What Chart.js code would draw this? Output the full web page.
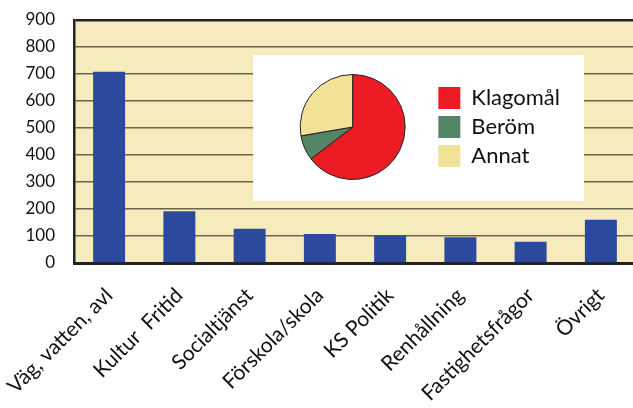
<!DOCTYPE html>
<html>
<head>
<meta charset="utf-8">
<script src="https://cdn.jsdelivr.net/npm/chart.js@4"></script>
<style>
    html, body { margin: 0; padding: 0; background: #fff; overflow: hidden; }
    #wrap { position: relative; width: 633px; height: 408px; overflow: hidden; }
    #barChart { position: absolute; left: 0; top: 0; }
    #pieChart { position: absolute; left: 253px; top: 55px; background: #fff; }
</style>
</head>
<body>
<div id="wrap">
    <canvas id="barChart"></canvas>
    <canvas id="pieChart"></canvas>
</div>
<script>
// Categories and values
const categories = ['Väg, vatten, avl', 'Kultur  Fritid', 'Socialtjänst', 'Förskola/skola',
    'KS Politik', 'Renhållning', 'Fastighetsfrågor', 'Övrigt'];
const counts = [708, 192, 127, 107, 103, 95, 79, 160];
const yTicks = [0, 100, 200, 300, 400, 500, 600, 700, 800, 900];

const pieLabels = ['Klagomål', 'Beröm', 'Annat'];
const pieShares = [64.6, 7.7, 27.7];

const FONT = 'Lato, "Open Sans", sans-serif';

function setupCanvas(canvas, width, height) {
    const pixelRatio = window.devicePixelRatio || 1;
    canvas.width = width * pixelRatio;
    canvas.height = height * pixelRatio;
    canvas.style.width = `${width}px`;
    canvas.style.height = `${height}px`;
    return canvas.getContext('2d');
}

// yellow plot background
const plotBackground = {
    id: 'plotBackground',
    beforeDraw(chart) {
        const { ctx, chartArea } = chart;
        ctx.save();
        ctx.fillStyle = '#F5EBBD';
        ctx.fillRect(chartArea.left, chartArea.top, chartArea.right - chartArea.left, chartArea.bottom - chartArea.top);
        ctx.restore();
    }
};

const barCtx = setupCanvas(document.getElementById('barChart'), 636, 408);

new Chart(barCtx, {
    type: 'bar',
    data: {
        labels: categories,
        datasets: [{
            data: counts,
            backgroundColor: '#2B4A9E',
            borderWidth: 0,
            barPercentage: 1,
            categoryPercentage: 0.455
        }]
    },
    options: {
        responsive: false,
        animation: false,
        layout: { padding: { top: 20, left: 0, right: 0, bottom: 0 } },
        plugins: {
            legend: { display: false },
            tooltip: { enabled: false }
        },
        scales: {
            y: {
                min: 0,
                max: 900,
                afterFit: (scale) => {
                    scale.width = 74;
                    // tick padding would otherwise push the plot down
                    scale.paddingTop = 8;
                    scale.paddingBottom = 8;
                },
                afterBuildTicks: (scale) => { scale.ticks = yTicks.map(v => ({ value: v })); },
                ticks: {
                    color: '#111',
                    padding: 19,
                    font: { family: FONT, size: 17 }
                },
                grid: {
                    drawTicks: false,
                    color: (c) => (c.tick && (c.tick.value === 900 || c.tick.value === 0)) ? '#222' : '#6e6550',
                    lineWidth: (c) => (c.tick && c.tick.value === 900) ? 2.5 : 1.5
                },
                border: { display: true, color: '#222', width: 2.5 }
            },
            x: {
                afterFit: (scale) => {
                    scale.height = 145;
                    // long rotated labels would otherwise shift the plot right
                    scale.paddingLeft = 0;
                    scale.paddingRight = 0;
                },
                ticks: {
                    color: '#111',
                    maxRotation: 45,
                    minRotation: 45,
                    padding: 20,
                    font: { family: FONT, size: 21 }
                },
                grid: { display: false, drawTicks: false },
                border: { display: true, color: '#222', width: 3 }
            }
        }
    },
    plugins: [plotBackground]
});

// inset pie
const pieCtx = setupCanvas(document.getElementById('pieChart'), 331, 146);

new Chart(pieCtx, {
    type: 'pie',
    data: {
        labels: pieLabels,
        datasets: [{
            data: pieShares,
            backgroundColor: ['#ED1C24', '#548466', '#F2E297'],
            borderColor: '#222',
            borderWidth: 1
        }]
    },
    options: {
        responsive: false,
        animation: false,
        layout: { padding: { top: 19, bottom: 21, left: 21, right: 14 } },
        plugins: {
            tooltip: { enabled: false },
            legend: {
                position: 'right',
                align: 'center',
                labels: {
                    boxWidth: 22,
                    boxHeight: 22,
                    padding: 7,
                    color: '#111',
                    font: { family: FONT, size: 22 },
                    generateLabels: (chart) => Chart.overrides.pie.plugins.legend.labels.generateLabels(chart)
                        .map(item => ({ ...item, lineWidth: 0, strokeStyle: 'rgba(0,0,0,0)' }))
                }
            }
        }
    }
});
</script>
</body>
</html>
